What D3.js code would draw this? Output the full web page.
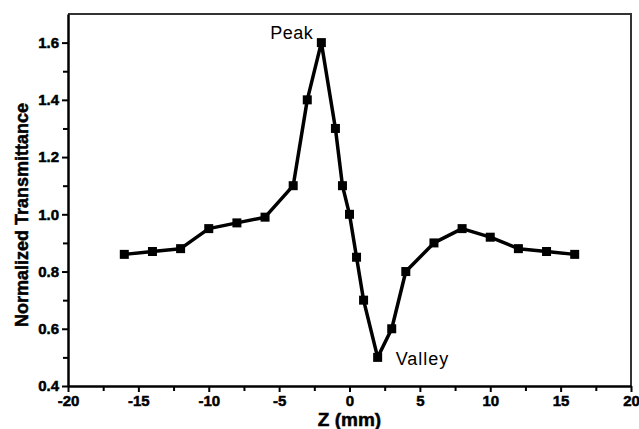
<!DOCTYPE html>
<html>
<head>
<meta charset="utf-8">
<script src="https://cdn.jsdelivr.net/npm/d3@7/dist/d3.min.js"></script>
<style>
  body { margin: 0; background: #fff; }
  svg { font-family: "Liberation Sans", Arial, sans-serif; }
  .axis .tick text { font-size: 15px; font-weight: bold; fill: #000; stroke: #000; stroke-width: 0.5px; font-family: "Liberation Sans", Arial, sans-serif; }
  .axis .tick line { stroke: #000; stroke-width: 2px; }
  .axis .domain { stroke: #000; stroke-width: 2.5px; }
  .title { font-weight: bold; stroke: #000; stroke-width: 0.5px; }
</style>
</head>
<body>
<script>
// z position (mm) and normalized transmittance
const zValues = [-16, -14, -12, -10, -8, -6, -4, -3, -2, -1, -0.5, 0, 0.5, 1, 2, 3, 4, 6, 8, 10, 12, 14, 16];
const transmittance = [0.86, 0.87, 0.88, 0.95, 0.97, 0.99, 1.10, 1.40, 1.60, 1.30, 1.10, 1.00, 0.85, 0.70, 0.50, 0.60, 0.80, 0.90, 0.95, 0.92, 0.88, 0.87, 0.86];
const xTicks = [-20, -15, -10, -5, 0, 5, 10, 15, 20];
const yTicks = [0.4, 0.6, 0.8, 1.0, 1.2, 1.4, 1.6];
const xMinor = [-17.5, -12.5, -7.5, -2.5, 2.5, 7.5, 12.5, 17.5];
const yMinor = [0.5, 0.7, 0.9, 1.1, 1.3, 1.5];

const width = 639, height = 429;
const margin = {top: 14, right: 8, bottom: 43, left: 68};

const points = zValues.map((z, i) => ({z: z, t: transmittance[i]}));

const svg = d3.select("body").append("svg")
    .attr("width", width)
    .attr("height", height);

const x = d3.scaleLinear().domain([-20, 20]).range([margin.left, width - margin.right]);
const y = d3.scaleLinear().domain([0.4, 1.7]).range([height - margin.bottom, margin.top]);

// top and right frame
svg.append("path")
    .attr("d", "M" + x(-20) + "," + y(1.7) + "H" + x(20) + "V" + y(0.4))
    .attr("fill", "none")
    .attr("stroke", "#333")
    .attr("stroke-width", 2);

// minor ticks
svg.append("g")
    .attr("class", "axis")
    .attr("transform", "translate(0," + y(0.4) + ")")
    .call(d3.axisBottom(x).tickValues(xMinor).tickSize(5).tickFormat(""))
    .call(g => g.select(".domain").remove());
svg.append("g")
    .attr("class", "axis")
    .attr("transform", "translate(" + x(-20) + ",0)")
    .call(d3.axisLeft(y).tickValues(yMinor).tickSize(5).tickFormat(""))
    .call(g => g.select(".domain").remove());

// main axes
svg.append("g")
    .attr("class", "axis")
    .attr("transform", "translate(0," + y(0.4) + ")")
    .call(d3.axisBottom(x).tickValues(xTicks).tickSize(6).tickSizeOuter(0).tickPadding(3)
        .tickFormat(d => d < 0 ? "-" + Math.abs(d) : String(d)));
svg.append("g")
    .attr("class", "axis")
    .attr("transform", "translate(" + x(-20) + ",0)")
    .call(d3.axisLeft(y).tickValues(yTicks).tickSize(6).tickSizeOuter(0).tickPadding(3)
        .tickFormat(d3.format(".1f")));

// axis titles
svg.append("text")
    .attr("class", "title")
    .text("Z (mm)")
    .attr("x", x(0))
    .attr("y", 426)
    .attr("text-anchor", "middle")
    .style("font-size", "19px");
svg.append("text")
    .attr("class", "title")
    .text("Normalized Transmittance")
    .attr("transform", "translate(28," + 215 + ") rotate(-90)")
    .attr("text-anchor", "middle")
    .style("font-size", "18px");

// data line
const line = d3.line()
    .x(d => x(d.z))
    .y(d => y(d.t));
svg.append("path")
    .datum(points)
    .attr("d", line)
    .attr("fill", "none")
    .attr("stroke", "#000")
    .attr("stroke-width", 3.5)
    .attr("stroke-linejoin", "round");

// square markers
svg.selectAll(".marker")
    .data(points)
    .enter()
    .append("rect")
        .attr("class", "marker")
        .attr("x", d => x(d.z) - 4.5)
        .attr("y", d => y(d.t) - 4.5)
        .attr("width", 9)
        .attr("height", 9)
        .attr("fill", "#000");

// annotations
const peak = points[d3.maxIndex(points, d => d.t)];
const valley = points[d3.minIndex(points, d => d.t)];
svg.append("text")
    .text("Peak")
    .attr("x", x(peak.z) - 8)
    .attr("y", y(peak.t) - 4)
    .attr("text-anchor", "end")
    .style("font-size", "18px")
    .style("letter-spacing", "0.5px");
svg.append("text")
    .text("Valley")
    .attr("x", x(valley.z) + 18)
    .attr("y", y(valley.t) + 8)
    .style("font-size", "18px")
    .style("letter-spacing", "1px");
</script>
</body>
</html>
